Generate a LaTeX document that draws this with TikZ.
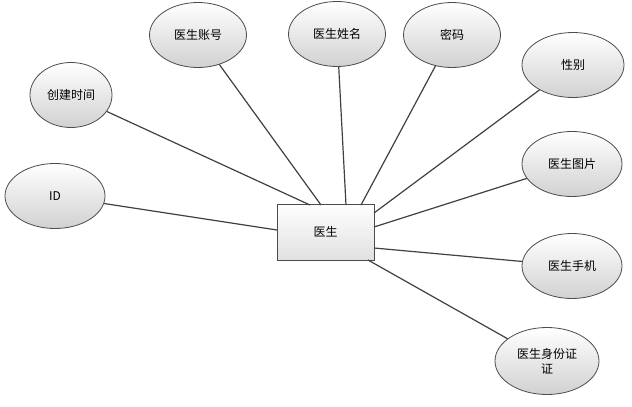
\documentclass[tikz,border=0pt]{standalone}
\usepackage{fontspec}
\newfontfamily\cjk{Noto Sans CJK SC}
\usetikzlibrary{shapes.geometric}
\begin{document}
\begin{tikzpicture}[x=0.75pt,y=-0.75pt,
  attr/.style={ellipse,draw=black!70,line width=0.6pt,top color=white,bottom color=black!18,minimum width=97*0.75pt,minimum height=65*0.75pt,inner sep=0pt,font=\cjk\small,align=center},
  ent/.style={rectangle,draw=black!70,line width=0.6pt,top color=white,bottom color=black!12,minimum width=97*0.75pt,minimum height=56*0.75pt,font=\cjk\small},
  link/.style={draw=black!75,line width=0.9pt}]
\useasboundingbox (0,0) rectangle (632,407);
\node[ent] (doc) at (325.5,232) {医生};
\node[attr,minimum width=82*0.75pt] (ct) at (71,95) {创建时间};
\node[attr] (zh) at (198,35) {医生账号};
\node[attr] (xm) at (337,34) {医生姓名};
\node[attr] (mm) at (452,35) {密码};
\node[attr,minimum width=102*0.75pt] (xb) at (573,65) {性别};
\node[attr,minimum width=100*0.75pt] (tp) at (572,164) {医生图片};
\node[attr,minimum width=100*0.75pt] (id) at (55,196) {ID};
\node[attr,minimum width=100*0.75pt] (sj) at (572,266) {医生手机};
\node[attr,minimum width=104*0.75pt,minimum height=67*0.75pt] (sfz) at (547,361) {医生身份证\\证};
\path[link] (ct) -- (310,205);
\path[link] (zh) -- (321,205);
\path[link] (xm) -- (346,205);
\path[link] (mm) -- (361,205);
\path[link] (xb) -- (374,213);
\path[link] (tp) -- (374,227);
\path[link] (id) -- (277,230);
\path[link] (sj) -- (374,248);
\path[link] (sfz) -- (368,260);
\end{tikzpicture}
\end{document}
